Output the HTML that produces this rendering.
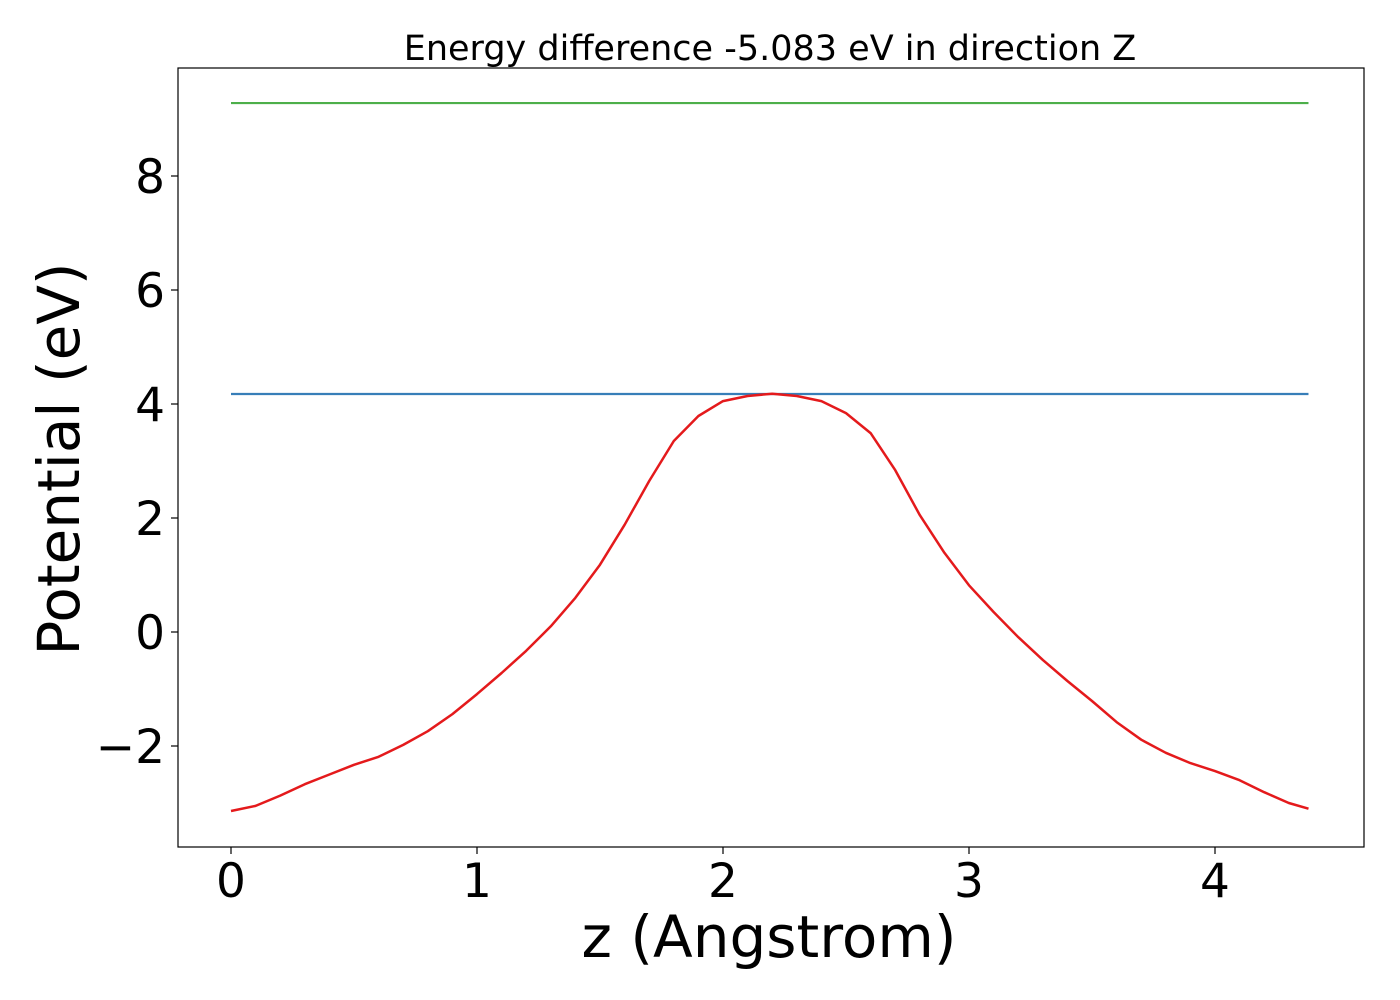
<!DOCTYPE html>
<html><head><meta charset="utf-8"><style>
html,body{margin:0;padding:0;background:#fff;}
svg{display:block;font-family:"DejaVu Sans","Liberation Sans",sans-serif;}
</style></head><body>
<svg id="chart" width="1400" height="1000" viewBox="0 0 1400 1000">
<rect x="0" y="0" width="1400" height="1000" fill="#fff"/>
<text x="770" y="60" font-size="35" text-anchor="middle" fill="#000">Energy difference -5.083 eV in direction Z</text>
<g id="xticks"></g>
<g id="yticks"></g>
<g id="series"></g>
<rect x="178" y="68" width="1186" height="779" fill="none" stroke="#000" stroke-width="1.2"/>
<text x="769" y="957" font-size="58" text-anchor="middle">z (Angstrom)</text>
<text transform="translate(79,459) rotate(-90)" font-size="58" text-anchor="middle">Potential (eV)</text>
</svg>
<script>
const xTicks=[0,1,2,3,4];
const yTicks=[-2,0,2,4,6,8];
const yTickLabels=["\u22122","0","2","4","6","8"];
const zValues=[0,0.1,0.2,0.3,0.4,0.5,0.6,0.7,0.8,0.9,1.0,1.1,1.2,1.3,1.4,1.5,1.6,1.7,1.8,1.9,2.0,2.1,2.2,2.3,2.4,2.5,2.6,2.7,2.8,2.9,3.0,3.1,3.2,3.3,3.4,3.5,3.6,3.7,3.8,3.9,4.0,4.1,4.2,4.3,4.38];
const potential=[-3.14,-3.05,-2.87,-2.67,-2.5,-2.33,-2.19,-1.98,-1.74,-1.44,-1.09,-0.72,-0.33,0.1,0.6,1.18,1.88,2.65,3.35,3.79,4.05,4.14,4.18,4.14,4.05,3.84,3.49,2.84,2.05,1.39,0.82,0.35,-0.09,-0.49,-0.86,-1.21,-1.58,-1.89,-2.12,-2.30,-2.44,-2.60,-2.81,-3.0,-3.10];
const blueLevel=4.175;
const greenLevel=9.28;
const NS="http://www.w3.org/2000/svg";
function xs(v){return 231+v*246;}
function ys(v){return 632-v*57;}
function mk(tag,attrs,parent){const e=document.createElementNS(NS,tag);for(const k in attrs)e.setAttribute(k,attrs[k]);parent.appendChild(e);return e;}
const gx=document.getElementById('xticks'),gy=document.getElementById('yticks'),gs=document.getElementById('series');
xTicks.forEach(t=>{
  const l=mk('line',{x1:xs(t),x2:xs(t),y1:847,y2:854,stroke:'#000','stroke-width':1.2},gx);
  
  
  const tx=mk('text',{x:xs(t),y:897,'font-size':47,'text-anchor':'middle'},gx);
  tx.textContent=String(t);
  
  
});
yTicks.forEach((t,i)=>{
  const l=mk('line',{x1:171,x2:178,y1:ys(t),y2:ys(t),stroke:'#000','stroke-width':1.2},gy);
  
  
  const tx=mk('text',{x:165,y:ys(t)+17,'font-size':47,'text-anchor':'end'},gy);
  tx.textContent=yTickLabels[i];
  
  
});
const x0=xs(zValues[0]),x1=xs(zValues[zValues.length-1]);
const g=mk('line',{x1:x0,x2:x1,y1:ys(greenLevel),y2:ys(greenLevel),stroke:'#4daf4a','stroke-width':2.2},gs);


const b=mk('line',{x1:x0,x2:x1,y1:ys(blueLevel),y2:ys(blueLevel),stroke:'#377eb8','stroke-width':2.2},gs);


const pts=zValues.map((z,i)=>xs(z).toFixed(1)+','+ys(potential[i]).toFixed(1)).join(' ');
const p=mk('polyline',{points:pts,fill:'none',stroke:'#e41a1c','stroke-width':2.5,'stroke-linejoin':'round'},gs);


</script>
</body></html>
